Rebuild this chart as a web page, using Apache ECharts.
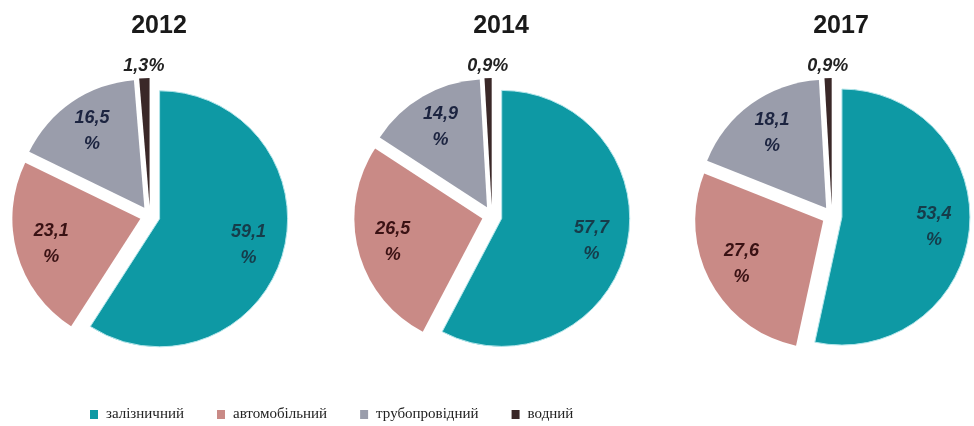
<!DOCTYPE html>
<html>
<head>
<meta charset="utf-8">
<script src="https://cdn.jsdelivr.net/npm/echarts@6/dist/echarts.min.js"></script>
<style>
  html, body { margin: 0; padding: 0; background: #ffffff; }
  #chart { width: 974px; height: 426px; }
</style>
</head>
<body>
<div id="chart"></div>
<script>
// Freight transport structure by mode, % of total
const years = ['2012', '2014', '2017'];
const modes = ['залізничний', 'автомобільний', 'трубопровідний', 'водний'];
const share2012 = [59.1, 23.1, 16.5, 1.3];
const share2014 = [57.7, 26.5, 14.9, 0.9];
const share2017 = [53.4, 27.6, 18.1, 0.9];
const shares = [share2012, share2014, share2017];

const colors = ['#0e99a4', '#c98a86', '#9a9dab', '#3a2828'];
const labelColors = ['#163c4a', '#3a1214', '#1c2440', '#222222'];

const centersX = [150, 492, 832];
const centerY = 216;
const R = 128;
const explode = 10;

const fmtNum = v => String(v).replace('.', ',');
const labelFont = {
  fontFamily: 'Liberation Sans, Arial, sans-serif',
  fontSize: 18,
  fontWeight: 'bold',
  fontStyle: 'italic',
  lineHeight: 26
};

const series = [];
const titles = [];

years.forEach((year, k) => {
  const center = [centersX[k], centerY];
  const vals = shares[k];

  titles.push({
    text: year,
    left: centersX[k] + 4,
    top: 9,
    textAlign: 'center',
    textStyle: {
      fontFamily: 'Liberation Sans, Arial, sans-serif',
      fontSize: 25,
      fontWeight: 'bold',
      color: '#1a1a1a'
    }
  });

  // sectors
  series.push({
    type: 'pie',
    name: year,
    center: center,
    radius: [0, R],
    startAngle: 90,
    clockwise: true,
    selectedMode: 'multiple',
    selectedOffset: explode,
    avoidLabelOverlap: false,
    label: { show: false },
    labelLine: { show: false },
    emphasis: { disabled: true },
    animation: false,
    data: vals.map((v, i) => ({
      name: modes[i],
      value: v,
      selected: true,
      itemStyle: i === 0
        ? { color: colors[i], borderColor: '#b4e6eb', borderWidth: 1 }
        : { color: colors[i] }
    }))
  });

  // value labels inside the larger slices
  series.push({
    type: 'pie',
    name: year + '-in',
    center: center,
    radius: [R * 0.4, R],
    startAngle: 90,
    clockwise: true,
    selectedMode: 'multiple',
    selectedOffset: explode,
    avoidLabelOverlap: false,
    silent: true,
    animation: false,
    labelLine: { show: false },
    emphasis: { disabled: true },
    data: vals.map((v, i) => ({
      name: modes[i],
      value: v,
      selected: true,
      itemStyle: { color: 'rgba(0,0,0,0)' },
      label: i < 3
        ? Object.assign({
            show: true,
            position: 'inside',
            color: labelColors[i],
            formatter: p => fmtNum(p.value) + '\n%'
          }, labelFont)
        : { show: false }
    }))
  });

  // value label above the thin slice
  series.push({
    type: 'pie',
    name: year + '-out',
    center: center,
    radius: [R + 2, R + 16],
    startAngle: 90,
    clockwise: true,
    selectedMode: 'multiple',
    selectedOffset: explode,
    avoidLabelOverlap: false,
    silent: true,
    animation: false,
    labelLine: { show: false },
    emphasis: { disabled: true },
    data: vals.map((v, i) => ({
      name: modes[i],
      value: v,
      selected: true,
      itemStyle: { color: 'rgba(0,0,0,0)' },
      label: i === 3
        ? Object.assign({
            show: true,
            position: 'inside',
            color: labelColors[i],
            formatter: p => fmtNum(p.value) + '%'
          }, labelFont)
        : { show: false }
    }))
  });
});

const chart = echarts.init(document.getElementById('chart'), null, { renderer: 'canvas' });
chart.setOption({
  backgroundColor: '#ffffff',
  color: colors,
  title: titles,
  legend: {
    data: modes,
    left: 85,
    top: 402,
    icon: 'rect',
    itemWidth: 8,
    itemHeight: 9,
    itemGap: 33,
    selectedMode: false,
    itemStyle: { borderWidth: 0 },
    textStyle: {
      fontFamily: 'Liberation Serif, Times New Roman, serif',
      fontSize: 15,
      color: '#222222',
      padding: [0, 0, 0, 3]
    }
  },
  series: series
});
</script>
</body>
</html>
